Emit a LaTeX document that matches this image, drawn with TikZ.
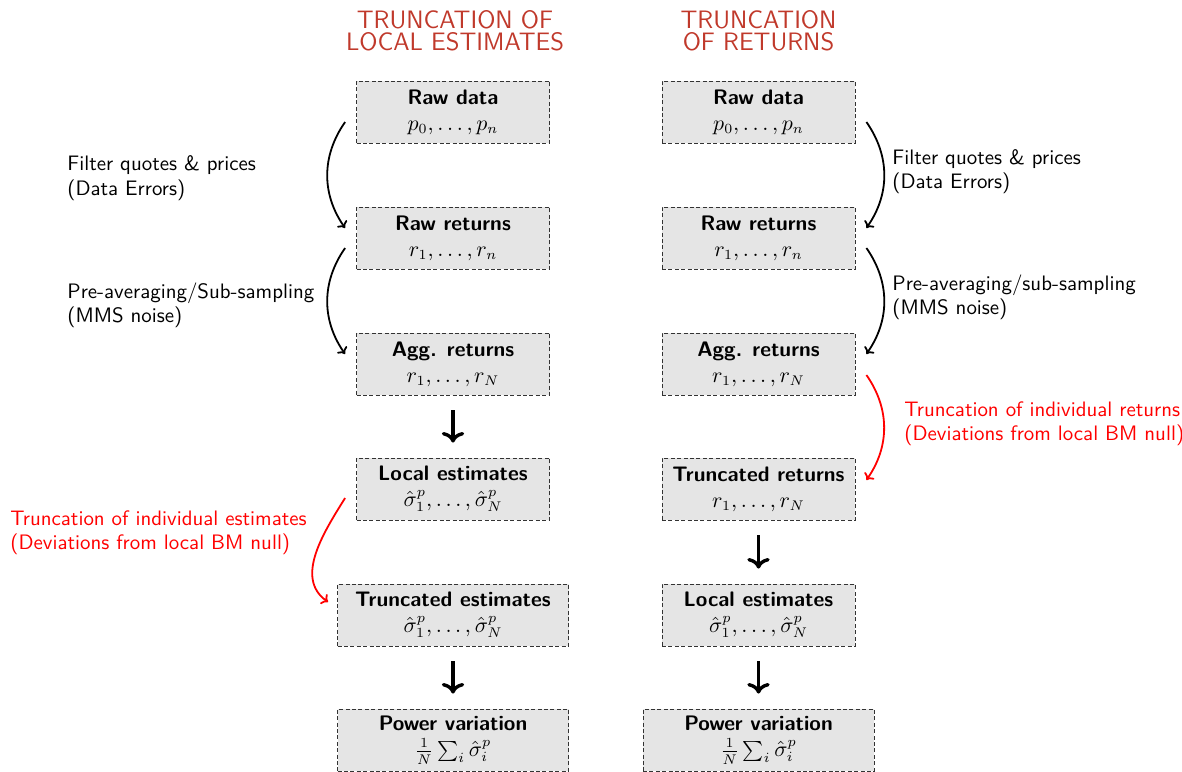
\documentclass[tikz,border=0pt]{standalone}
\usetikzlibrary{arrows.meta}
\definecolor{titlered}{RGB}{192,57,43}
\begin{document}
\begin{tikzpicture}[x=0.5pt,y=0.5pt,
  box/.style={draw=black!80, dash pattern=on 2pt off 1.2pt, fill=black!10, minimum width=96.5pt, minimum height=31pt, inner xsep=5pt, align=center, font=\sffamily\fontsize{10.5}{13}\selectfont},
  wide/.style={minimum width=115.5pt},
  curv/.style={-{To[length=3pt,width=6pt]}, line width=0.9pt},
  big/.style={-{To}, line width=1.7pt, shorten <=7.5pt, shorten >=7.5pt},
  lab/.style={anchor=west, align=left, inner sep=0pt, font=\sffamily\fontsize{10.45}{12.2}\selectfont},
  ttl/.style={align=center, text=titlered, font=\sffamily\fontsize{12.6}{10.9}\selectfont}]
\useasboundingbox (0,0) rectangle (1182,-771);

\node[ttl] (T1) at (455,-31) {TRUNCATION OF\\LOCAL ESTIMATES};
\node[ttl] (T2) at (758.5,-31) {TRUNCATION\\OF RETURNS};

% left column
\node[box] (L1) at (453,-112) {\textbf{Raw data}\\$p_0,\dots,p_n$};
\node[box] (L2) at (453,-238) {\textbf{Raw returns}\\$r_1,\dots,r_n$};
\node[box] (L3) at (453,-364) {\textbf{Agg. returns}\\$r_1,\dots,r_N$};
\node[box] (L4) at (453,-489) {\textbf{Local estimates}\\$\hat{\sigma}_1^p,\dots,\hat{\sigma}_N^p$};
\node[box,wide] (L5) at (453,-615) {\textbf{Truncated estimates}\\$\hat{\sigma}_1^p,\dots,\hat{\sigma}_N^p$};
\node[box,wide] (L6) at (453,-740) {\textbf{Power variation}\\$\frac{1}{N}\sum_i\hat{\sigma}_i^p$};

% right column
\node[box] (R1) at (758.5,-112) {\textbf{Raw data}\\$p_0,\dots,p_n$};
\node[box] (R2) at (758.5,-238) {\textbf{Raw returns}\\$r_1,\dots,r_n$};
\node[box] (R3) at (758.5,-364) {\textbf{Agg. returns}\\$r_1,\dots,r_N$};
\node[box] (R4) at (758.5,-489) {\textbf{Truncated returns}\\$r_1,\dots,r_N$};
\node[box] (R5) at (758.5,-615) {\textbf{Local estimates}\\$\hat{\sigma}_1^p,\dots,\hat{\sigma}_N^p$};
\node[box,wide] (R6) at (758.5,-740) {\textbf{Power variation}\\$\frac{1}{N}\sum_i\hat{\sigma}_i^p$};

% labels
\node[lab] (f1) at (67,-178) {Filter quotes \& prices\\(Data Errors)};
\node[lab] (f2) at (892,-171.5) {Filter quotes \& prices\\(Data Errors)};
\node[lab] (p1) at (67,-305) {Pre-averaging/Sub-sampling\\(MMS noise)};
\node[lab] (p2) at (892,-297.5) {Pre-averaging/sub-sampling\\(MMS noise)};
\node[lab,text=red] (t1) at (904,-423.5) {Truncation of individual returns\\(Deviations from local BM null)};
\node[lab,text=red] (t2) at (10,-533) {Truncation of individual estimates\\(Deviations from local BM null)};

% curved arrows
\draw[curv] ([xshift=-5.5pt,yshift=-5pt]L1.west) to[bend right=35] ([xshift=-5.5pt,yshift=5pt]L2.west);
\draw[curv] ([xshift=-5.5pt,yshift=-5pt]L2.west) to[bend right=35] ([xshift=-5.5pt,yshift=5pt]L3.west);
\draw[curv] ([xshift=5.5pt,yshift=-5pt]R1.east) to[bend left=35] ([xshift=5.5pt,yshift=5pt]R2.east);
\draw[curv] ([xshift=5.5pt,yshift=-5pt]R2.east) to[bend left=35] ([xshift=5.5pt,yshift=5pt]R3.east);
\draw[curv,red] ([xshift=5.5pt,yshift=-5.5pt]R3.east) to[bend left=35] ([xshift=5.5pt,yshift=4.5pt]R4.east);
\draw[curv,red] ([xshift=-5.5pt,yshift=-4.5pt]L4.west) to[out=238,in=145] ([xshift=-4.5pt,yshift=6.5pt]L5.west);

% straight arrows
\draw[big] (L3) -- (L4);
\draw[big] (L5) -- (L6);
\draw[big] (R4) -- (R5);
\draw[big] (R5) -- (R6);
\end{tikzpicture}
\end{document}
